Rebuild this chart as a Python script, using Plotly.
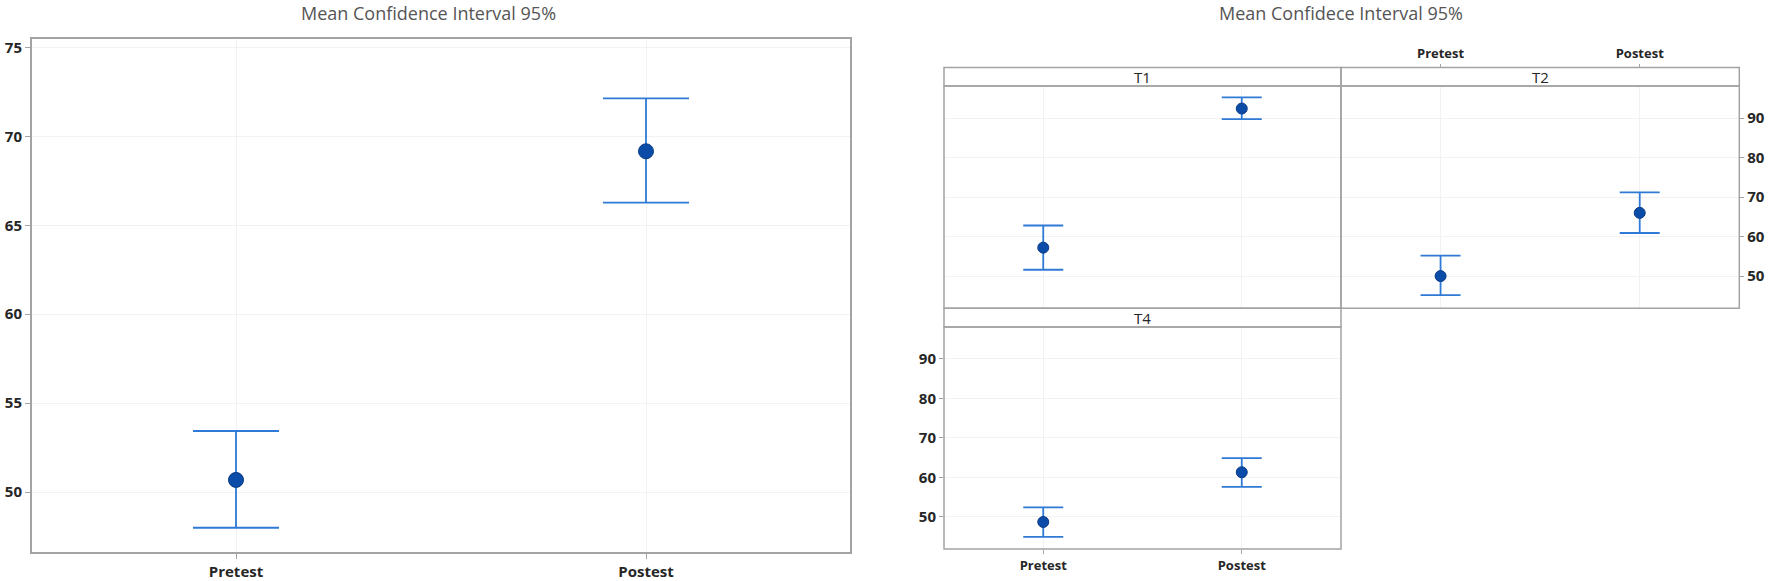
import plotly.graph_objects as go

# ---------------- data ----------------
categories = ["Pretest", "Postest"]

overall_mean = [50.68, 69.16]
overall_lower = [47.99, 66.27]
overall_upper = [53.43, 72.13]

t1_mean = [57.2, 92.4]
t1_lower = [51.6, 89.7]
t1_upper = [62.8, 95.2]

t2_mean = [50.0, 66.0]
t2_lower = [45.2, 60.9]
t2_upper = [55.2, 71.2]

t4_mean = [48.7, 61.3]
t4_lower = [44.9, 57.6]
t4_upper = [52.4, 64.9]

left_yticks = [50, 55, 60, 65, 70, 75]
facet_yticks = [50, 60, 70, 80, 90]
facet_labels = ["T1", "T2", "T4"]
left_title = "Mean Confidence Interval 95%"
right_title = "Mean Confidece Interval 95%"

# ---------------- style ----------------
W, H = 1772, 581
BAR = "#2f7ad6"
DOT = "#0a4ca8"
DOT_EDGE = "#0a3a86"
FRAME = "#a3a3a3"
GRID = "#f2f2f2"
TXT = "#262626"
FONT = "Open Sans"


def px_x(v):
    return v / W


def px_y(v):
    return 1 - v / H


def ci_trace(mean, lower, upper, xa, ya, cap, msize):
    plus = [u - m for u, m in zip(upper, mean)]
    minus = [m - l for m, l in zip(mean, lower)]
    return go.Scatter(
        x=categories, y=mean, mode="markers", xaxis=xa, yaxis=ya,
        marker=dict(size=msize, color=DOT, line=dict(color=DOT_EDGE, width=1)),
        error_y=dict(type="data", symmetric=False, array=plus, arrayminus=minus,
                     color=BAR, thickness=1.8, width=cap),
        showlegend=False, hoverinfo="skip",
    )


fig = go.Figure()
fig.add_trace(ci_trace(overall_mean, overall_lower, overall_upper, "x", "y", 43, 15))
fig.add_trace(ci_trace(t1_mean, t1_lower, t1_upper, "x2", "y2", 20, 11))
fig.add_trace(ci_trace(t2_mean, t2_lower, t2_upper, "x3", "y3", 20, 11))
fig.add_trace(ci_trace(t4_mean, t4_lower, t4_upper, "x4", "y4", 20, 11))

# panel pixel boxes (left, top, right, bottom)
L = (31, 38, 851, 553)
P1 = (944, 86, 1341, 308.3)
P2 = (1341, 86, 1739.3, 308.3)
P4 = (944, 327, 1341, 549)
HDR1 = (944, 67.5, 1341, 86)
HDR2 = (1341, 67.5, 1739.3, 86)
HDR4 = (944, 308.3, 1341, 327)


def dom(box):
    return [px_x(box[0]), px_x(box[2])], [px_y(box[3]), px_y(box[1])]


common_x = dict(type="category", range=[-0.5, 1.5], showgrid=True, gridcolor=GRID,
                gridwidth=1, zeroline=False, showline=False, tickcolor=FRAME,
                ticklen=5, tickwidth=1)
common_y = dict(showgrid=True, gridcolor=GRID, gridwidth=1, zeroline=False,
                showline=False, tickcolor=FRAME, ticklen=5, tickwidth=1)

lx, ly = dom(L)
x1, y1 = dom(P1)
x2, y2 = dom(P2)
x4, y4 = dom(P4)

fig.update_layout(
    width=W, height=H,
    margin=dict(l=0, r=0, t=0, b=0),
    paper_bgcolor="white", plot_bgcolor="white",
    font=dict(family=FONT, color=TXT),
    xaxis=dict(common_x, domain=lx, anchor="y", ticks="outside",
               tickfont=dict(size=15, weight="bold", color=TXT)),
    yaxis=dict(common_y, domain=ly, anchor="x", range=[46.57, 75.53],
               tickvals=left_yticks, ticks="outside",
               tickfont=dict(size=15, weight="bold", color=TXT)),
    xaxis2=dict(common_x, domain=x1, anchor="y2", showticklabels=False, ticks=""),
    yaxis2=dict(common_y, domain=y1, anchor="x2", range=[41.85, 98.1],
                tickvals=facet_yticks, showticklabels=False, ticks=""),
    xaxis3=dict(common_x, domain=x2, anchor="free", position=px_y(67.5), side="top",
                ticks="outside", ticklen=4,
                tickfont=dict(size=13, weight="bold", color=TXT)),
    yaxis3=dict(common_y, domain=y2, anchor="x3", side="right", range=[41.85, 98.1],
                tickvals=facet_yticks, ticks="outside", ticklen=4,
                tickfont=dict(size=15, weight="bold", color=TXT)),
    xaxis4=dict(common_x, domain=x4, anchor="y4", ticks="outside", ticklen=4,
                tickfont=dict(size=13, weight="bold", color=TXT)),
    yaxis4=dict(common_y, domain=y4, anchor="x4", range=[41.85, 98.1],
                tickvals=facet_yticks, ticks="outside", ticklen=4,
                tickfont=dict(size=15, weight="bold", color=TXT)),
)

shapes = []
for box, w in [(L, 2), (P1, 1.5), (P2, 1.5), (P4, 1.5), (HDR1, 1.5), (HDR2, 1.5), (HDR4, 1.5)]:
    shapes.append(dict(type="rect", xref="paper", yref="paper",
                       x0=px_x(box[0]), x1=px_x(box[2]), y0=px_y(box[3]), y1=px_y(box[1]),
                       line=dict(color=FRAME, width=w), fillcolor="rgba(0,0,0,0)",
                       layer="above"))
fig.update_layout(shapes=shapes)

annotations = [
    dict(text=left_title, x=px_x(428), y=px_y(13), xref="paper", yref="paper",
         showarrow=False, xanchor="center", yanchor="middle",
         font=dict(size=18, color="#555555", family=FONT)),
    dict(text=right_title, x=px_x(1341), y=px_y(13), xref="paper", yref="paper",
         showarrow=False, xanchor="center", yanchor="middle",
         font=dict(size=18, color="#555555", family=FONT)),
]
for lab, box in zip(facet_labels, [HDR1, HDR2, HDR4]):
    annotations.append(dict(text=lab, x=px_x((box[0] + box[2]) / 2),
                            y=px_y((box[1] + box[3]) / 2), xref="paper", yref="paper",
                            showarrow=False, xanchor="center", yanchor="middle",
                            font=dict(size=15, color=TXT, family=FONT)))
fig.update_layout(annotations=annotations)

fig.write_html(
    "out.html",
    config={"displayModeBar": False},
    post_script="document.body.style.margin='0';document.body.style.overflow='hidden';",
)
